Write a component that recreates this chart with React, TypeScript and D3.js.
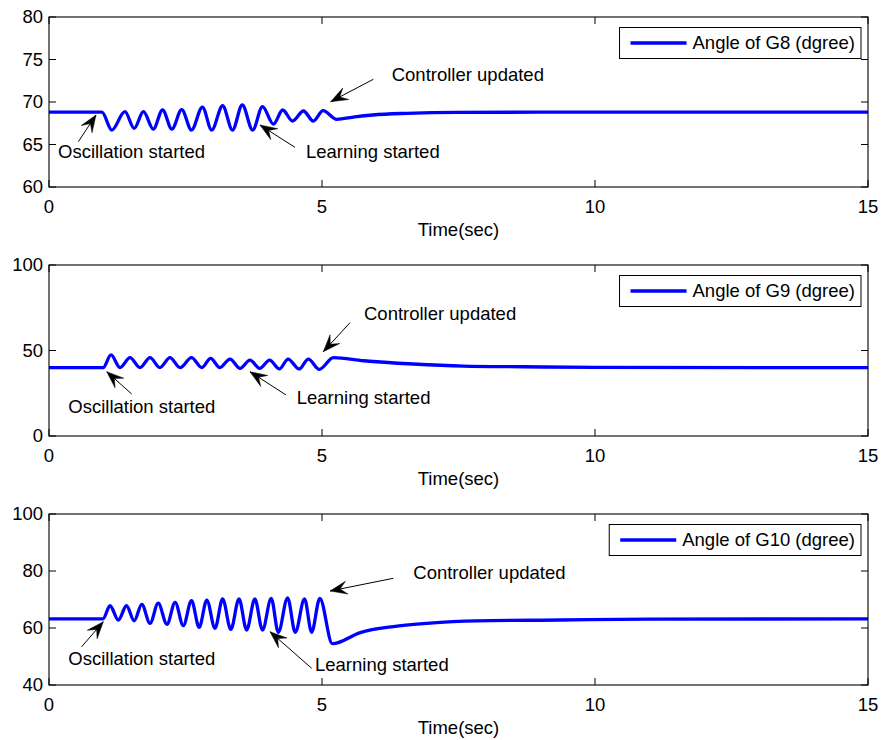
import React from "react";
import * as d3 from "d3";

// ---------- data ----------
const xTicks = [0, 5, 10, 15];

const g8Time = [0, 0.97, 1.15, 1.39, 1.56, 1.73, 1.91, 2.08, 2.25, 2.43, 2.61, 2.81, 2.98, 3.18, 3.36, 3.54, 3.73, 3.91, 4.11, 4.28, 4.46, 4.66, 4.84, 5.02, 5.27, 5.6, 5.93, 6.55, 7.47, 9, 15];
const g8Angle = [68.8, 68.8, 66.7, 68.86, 66.9, 68.86, 66.8, 69.06, 66.8, 69.1, 66.7, 69.4, 66.7, 69.56, 66.7, 69.65, 66.7, 69.45, 67.4, 69.06, 67.76, 68.94, 67.76, 68.98, 67.96, 68.25, 68.47, 68.67, 68.79, 68.8, 68.8];
const g8YTicks = [60, 65, 70, 75, 80];

const g9Time = [0, 0.99, 1.136, 1.3, 1.484, 1.667, 1.85, 2.03, 2.216, 2.4, 2.61, 2.8, 2.96, 3.13, 3.315, 3.5, 3.68, 3.86, 4.04, 4.22, 4.38, 4.58, 4.75, 4.95, 5.21, 5.76, 6.67, 7.59, 8.69, 10, 15];
const g9Angle = [40, 40, 47.4, 40, 45.8, 40, 45.8, 40, 45.8, 40, 45.8, 40, 45.4, 40, 45.0, 39.6, 44.4, 39.6, 44.4, 39.2, 45.0, 39.2, 45.0, 39.0, 45.8, 44.0, 42.1, 40.9, 40.5, 40.1, 40];
const g9YTicks = [0, 50, 100];

const g10Time = [0, 0.99, 1.117, 1.27, 1.42, 1.56, 1.7, 1.85, 2.0, 2.16, 2.31, 2.46, 2.61, 2.75, 2.89, 3.04, 3.18, 3.33, 3.48, 3.62, 3.77, 3.91, 4.07, 4.2, 4.37, 4.51, 4.68, 4.81, 4.96, 5.19, 5.7, 6.31, 6.92, 7.83, 9.36, 11, 15];
const g10Angle = [63.2, 63.2, 67.8, 62.8, 67.8, 62.5, 68.3, 61.6, 68.7, 61.3, 69.0, 60.8, 69.6, 60.2, 69.8, 59.9, 70.2, 59.5, 70.2, 59.3, 70.2, 59.3, 70.4, 58.5, 70.6, 58.5, 70.2, 58.5, 70.4, 54.5, 58.4, 60.5, 61.6, 62.5, 62.8, 63.1, 63.2];
const g10YTicks = [40, 60, 80, 100];

const legendLabels = ["Angle of G8 (dgree)", "Angle of G9 (dgree)", "Angle of G10 (dgree)"];
const xLabel = "Time(sec)";

// annotations in data units: [textT, textV, tailT, tailV, tipT, tipV]
const annotationTexts = ["Oscillation started", "Learning started", "Controller updated"];
const g8Notes = [
  [0.165, 64.12, 0.537, 65.33, 0.861, 68.47],
  [4.707, 64.15, 4.505, 64.67, 3.864, 67.29],
  [6.277, 73.29, 5.94, 72.67, 5.159, 70.04],
];
const g9Notes = [
  [0.353, 17.13, 1.515, 24.56, 1.057, 37.6],
  [4.537, 22.63, 4.341, 23.98, 3.681, 37.6],
  [5.769, 71.35, 5.513, 66.26, 5.024, 49.3],
];
const g10Notes = [
  [0.353, 49.37, 0.599, 53.44, 0.995, 62.21],
  [4.872, 47.02, 4.811, 45.86, 4.048, 58.7],
  [6.672, 79.4, 6.306, 77.44, 5.147, 72.98],
];

// ---------- layout ----------
const W = 883;
const H = 740;
const left = 49;
const right = 868;
const FONT = "'Liberation Sans', Arial, Helvetica, sans-serif";
const FS = 18.5;

const panels = [
  { time: g8Time, angle: g8Angle, yDomain: [60, 80], yTicks: g8YTicks, top: 17, bottom: 187, legend: legendLabels[0], notes: g8Notes },
  { time: g9Time, angle: g9Angle, yDomain: [0, 100], yTicks: g9YTicks, top: 265, bottom: 436, legend: legendLabels[1], notes: g9Notes },
  { time: g10Time, angle: g10Angle, yDomain: [40, 100], yTicks: g10YTicks, top: 514, bottom: 685, legend: legendLabels[2], notes: g10Notes },
];

function measure(text: string): number {
  const c = document.createElement("canvas");
  const ctx = c.getContext("2d");
  if (!ctx) return text.length * 9;
  ctx.font = `${FS}px ${FONT}`;
  return ctx.measureText(text).width;
}

function arrowHead(tipX: number, tipY: number, tailX: number, tailY: number) {
  const ang = Math.atan2(tipY - tailY, tipX - tailX);
  const L = 17;
  const Wd = 13;
  const notch = 0.6;
  const pts: [number, number][] = [
    [0, 0],
    [-L, Wd / 2],
    [-L * notch, 0],
    [-L, -Wd / 2],
  ];
  const c = Math.cos(ang), s = Math.sin(ang);
  return pts.map(([x, y]) => [tipX + x * c - y * s, tipY + x * s + y * c].join(",")).join(" ");
}

function Panel({ p }: { p: (typeof panels)[number] }) {
  const x = d3.scaleLinear().domain([0, 15]).range([left, right]);
  const y = d3.scaleLinear().domain(p.yDomain as [number, number]).range([p.bottom, p.top]);
  const data = p.time.map((t, i) => [t, p.angle[i]] as [number, number]);
  const line = d3
    .line<[number, number]>()
    .x((d) => x(d[0]))
    .y((d) => y(d[1]))
    .curve(d3.curveMonotoneX);
  const tick = 7;
  const tw = measure(p.legend);
  const lgRight = right - 7;
  const lgW = 11 + 56 + 6 + tw + 6;
  const lgLeft = lgRight - lgW;
  const lgTop = p.top + 10.5;
  const lgH = 31;
  return (
    <g>
      <rect x={left} y={p.top} width={right - left} height={p.bottom - p.top} fill="white" stroke="none" />
      <path d={line(data) || ""} fill="none" stroke="#0000ff" strokeWidth={3.3} strokeLinejoin="round" />
      {/* box */}
      <rect x={left} y={p.top} width={right - left} height={p.bottom - p.top} fill="none" stroke="black" strokeWidth={1.1} />
      {/* y ticks */}
      {p.yTicks.map((v) => (
        <g key={"y" + v}>
          <line x1={left} x2={left + tick} y1={y(v)} y2={y(v)} stroke="black" strokeWidth={1} />
          <line x1={right} x2={right - tick} y1={y(v)} y2={y(v)} stroke="black" strokeWidth={1} />
          <text x={left - 6} y={y(v)} dy="0.35em" textAnchor="end" fontSize={FS} fontFamily={FONT} fill="#000">
            {v}
          </text>
        </g>
      ))}
      {/* x ticks */}
      {xTicks.map((t) => (
        <g key={"x" + t}>
          <line x1={x(t)} x2={x(t)} y1={p.bottom} y2={p.bottom - tick} stroke="black" strokeWidth={1} />
          <line x1={x(t)} x2={x(t)} y1={p.top} y2={p.top + tick} stroke="black" strokeWidth={1} />
          <text x={x(t)} y={p.bottom + 20} dy="0.35em" textAnchor="middle" fontSize={FS} fontFamily={FONT} fill="#000">
            {t}
          </text>
        </g>
      ))}
      <text x={x(7.5)} y={p.bottom + 43} dy="0.35em" textAnchor="middle" fontSize={FS} fontFamily={FONT} fill="#000">
        {xLabel}
      </text>
      {/* legend */}
      <rect x={lgLeft} y={lgTop} width={lgW} height={lgH} fill="white" stroke="black" strokeWidth={1} />
      <line x1={lgLeft + 11} x2={lgLeft + 67} y1={lgTop + lgH / 2} y2={lgTop + lgH / 2} stroke="#0000ff" strokeWidth={3.3} />
      <text x={lgLeft + 73} y={lgTop + lgH / 2} dy="0.35em" fontSize={FS} fontFamily={FONT} fill="#000">
        {p.legend}
      </text>
      {/* annotations */}
      {p.notes.map((n, i) => {
        const [tt, tv, at, av, ht, hv] = n;
        const tx = x(at), ty = y(av), hx = x(ht), hy = y(hv);
        return (
          <g key={"n" + i}>
            <line x1={tx} y1={ty} x2={hx} y2={hy} stroke="black" strokeWidth={1} />
            <polygon points={arrowHead(hx, hy, tx, ty)} fill="black" stroke="black" strokeWidth={0.5} />
            <text x={x(tt)} y={y(tv)} dy="0.35em" fontSize={FS} fontFamily={FONT} fill="#000">
              {annotationTexts[i]}
            </text>
          </g>
        );
      })}
    </g>
  );
}

export default function App() {
  return (
    <div style={{ position: "absolute", left: 0, top: 0, width: W, height: H, background: "white" }}>
      <svg width={W} height={H} viewBox={`0 0 ${W} ${H}`} style={{ display: "block" }}>
        <rect width={W} height={H} fill="white" />
        {panels.map((p, i) => (
          <Panel key={i} p={p} />
        ))}
      </svg>
    </div>
  );
}
